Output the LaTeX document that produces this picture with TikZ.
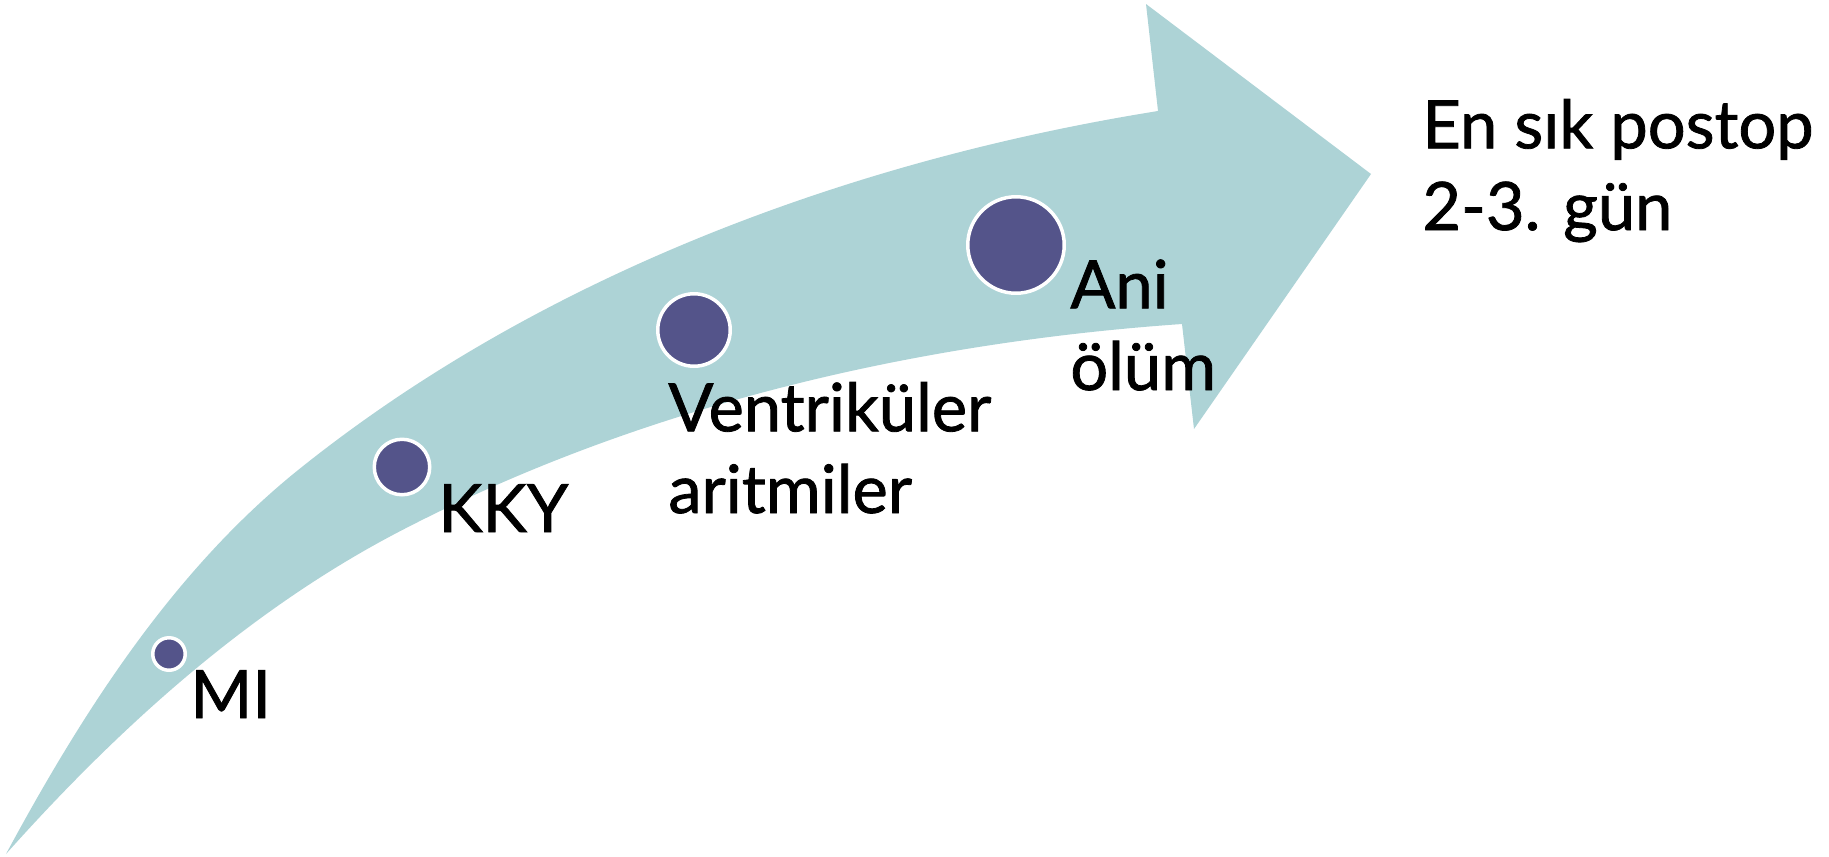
\documentclass[tikz,border=0pt]{standalone}
\usepackage{fontspec}
\setmainfont{Lato}[FakeBold=1.2]
\definecolor{bandteal}{RGB}{173,211,214}
\definecolor{dotblue}{RGB}{84,84,138}
\begin{document}
\begin{tikzpicture}[x=0.02cm,y=-0.02cm,
  dot/.style={circle,fill=dotblue,draw=white,line width=0.07cm,inner sep=0},
  lbl/.style={anchor=base west,inner sep=0,align=left,font=\fontsize{38}{46.5}\selectfont}]
\useasboundingbox (0,0) rectangle (1829,856);
% curved band with arrow head
\fill[bandteal]
  (6,854) .. controls (83,711.4) and (173.5,569.7) .. (300,468.5)
          .. controls (542,274.8) and (852,160) .. (1158,111)
  -- (1146,4) -- (1371,174) -- (1194,429) -- (1182,324)
          .. controls (912.6,342.8) and (639.5,406.7) .. (400,531.2)
          .. controls (249.2,609.6) and (119.2,727.2) .. (6,854)
  -- cycle;
% milestones
\node[dot,minimum size=0.65cm] (mi)  at (169,654) {};
\node[dot,minimum size=1.11cm] (kky) at (402,467) {};
\node[dot,minimum size=1.45cm] (vent) at (694,330) {};
\node[dot,minimum size=1.93cm] (ani) at (1016,245) {};
% labels (base anchor sits on the last line)
\node[lbl] (tmi)   at (190,718) {MI};
\node[lbl] (tkky)  at (438,532) {KKY};
\node[lbl] (tvent) at (668,513) {Ventriküler\\aritmiler};
\node[lbl] (tani)  at (1070,390) {Ani\\ölüm};
\node[lbl] (tgun)  at (1422,230) {En sık postop\\2-3. gün};
\end{tikzpicture}
\end{document}
